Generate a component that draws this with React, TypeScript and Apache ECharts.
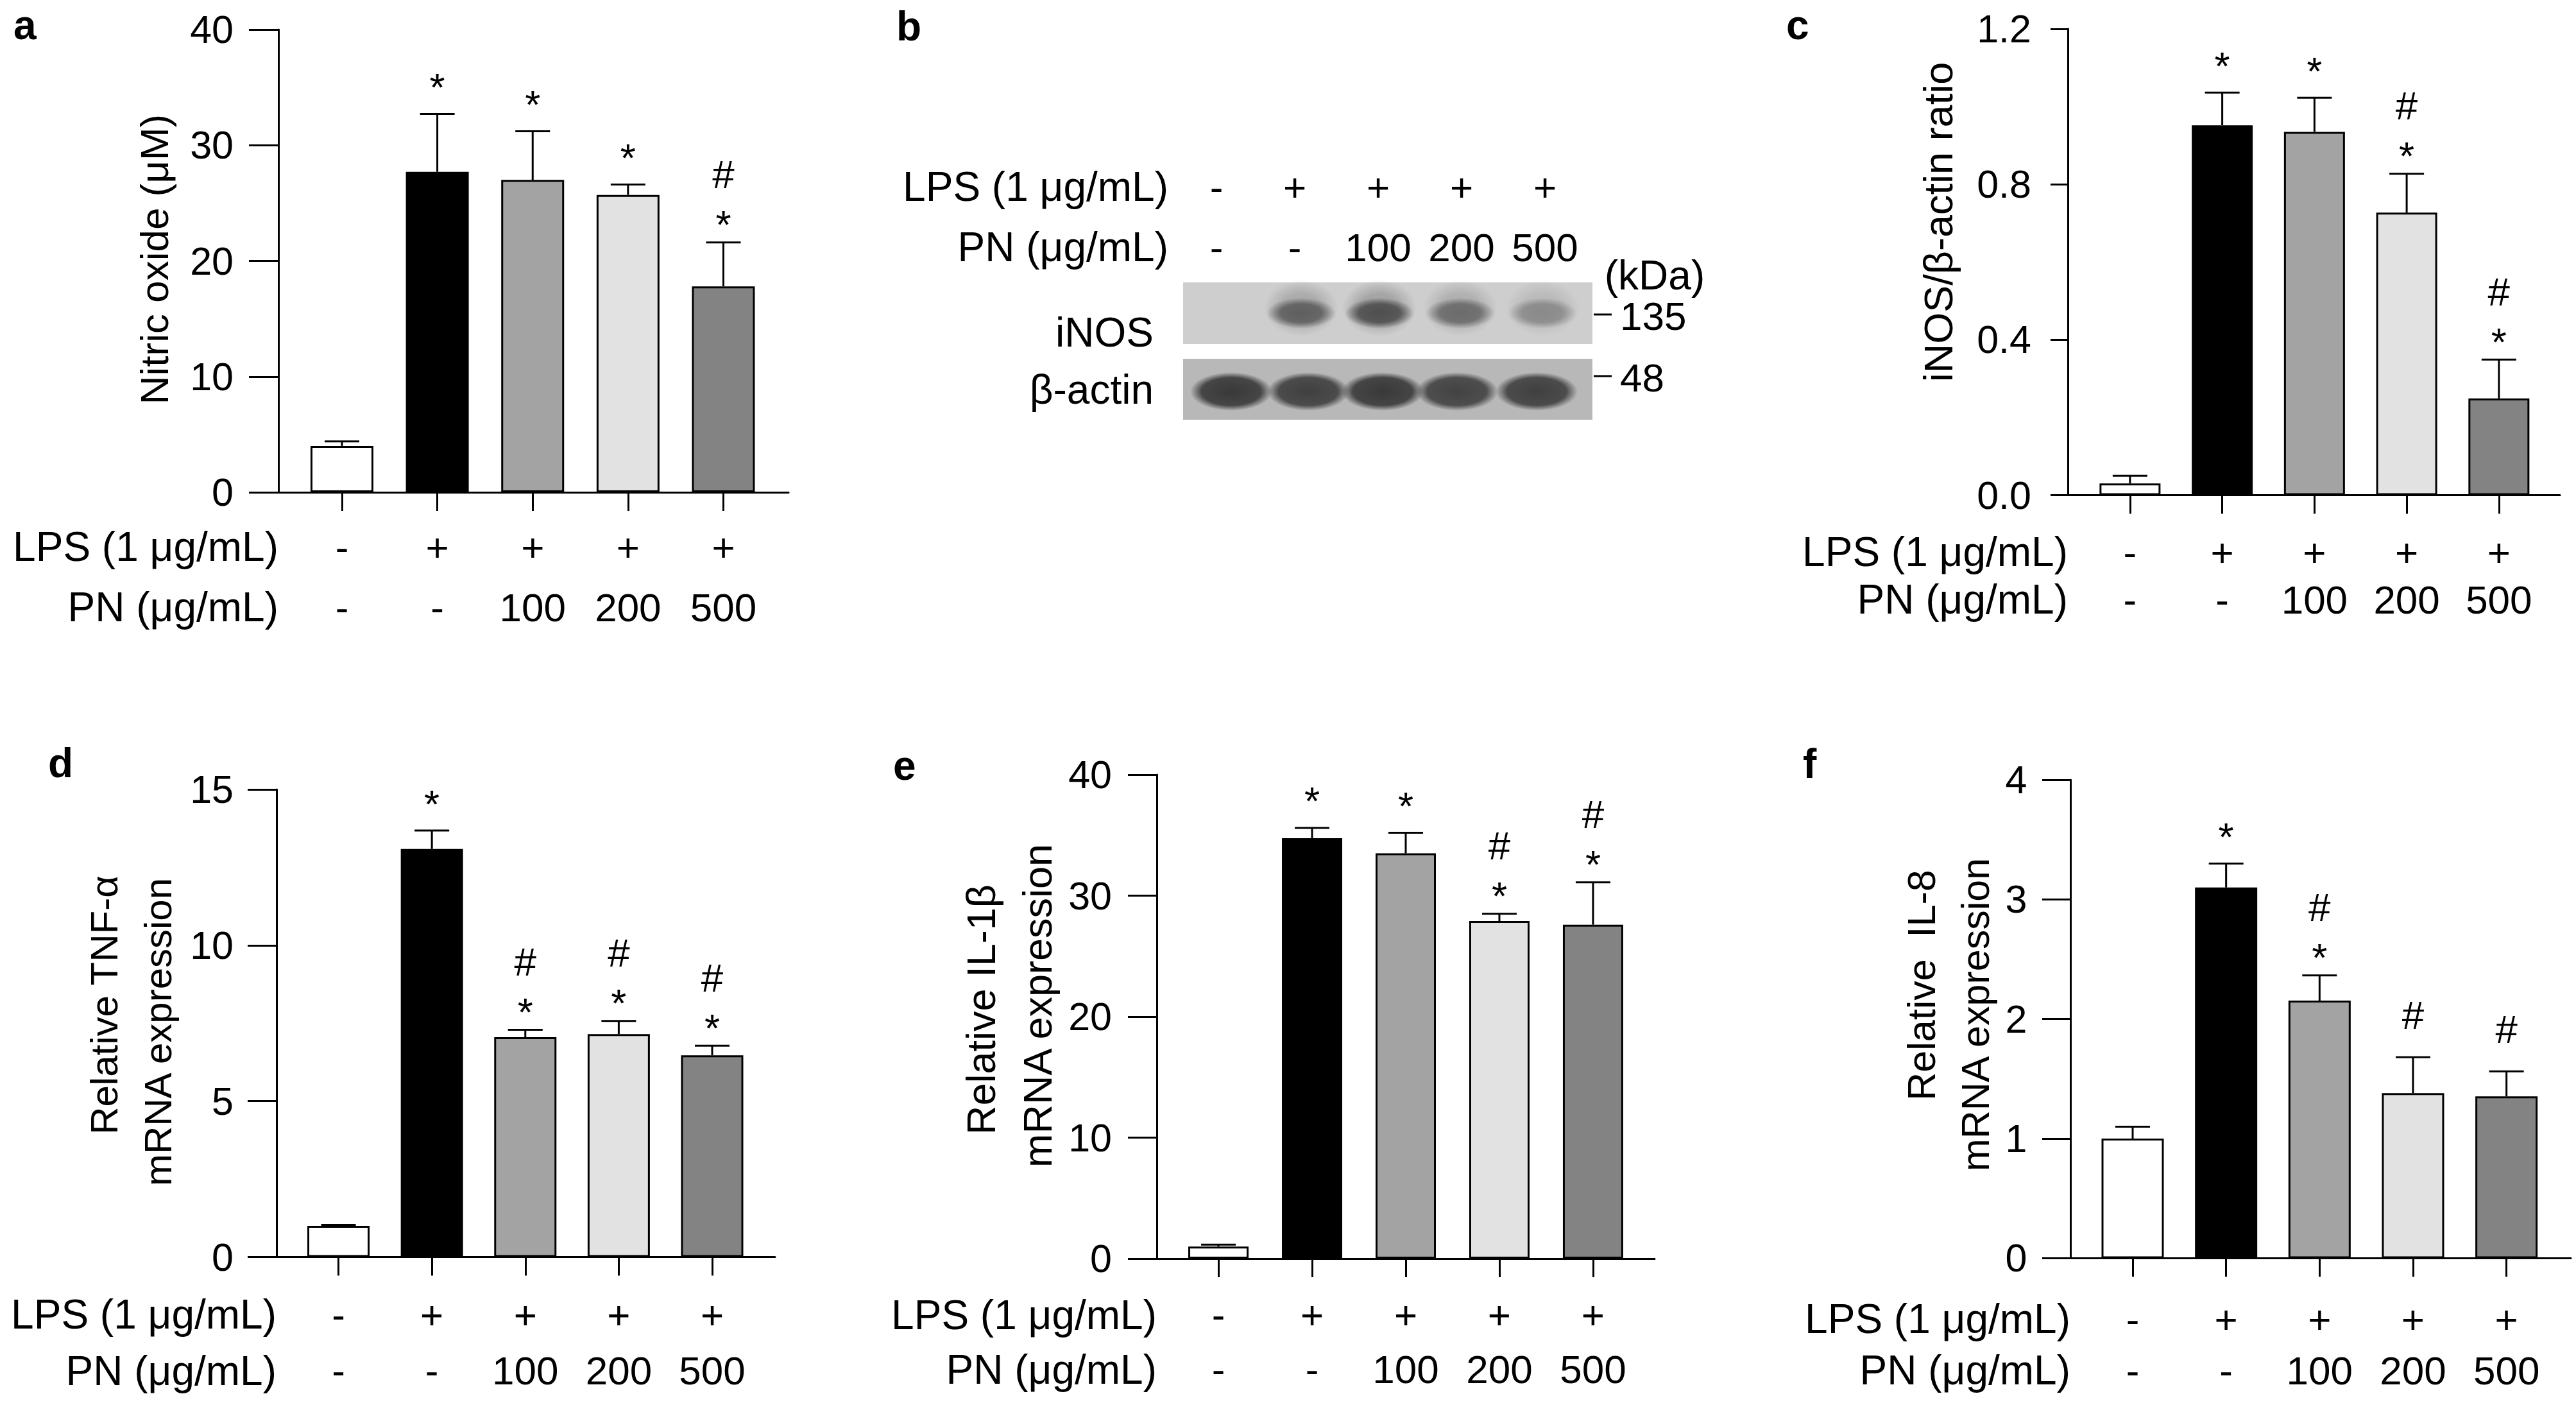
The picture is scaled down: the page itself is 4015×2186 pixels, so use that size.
import React, { useEffect, useRef } from 'react';
import * as echarts from 'echarts';

const FONT = '"Liberation Sans", Arial, Helvetica, sans-serif';

// ---------- data ----------
const GROUPS = [0, 1, 2, 3, 4];
const LPS_ROW = ['-', '+', '+', '+', '+'];
const PN_ROW = ['-', '-', '100', '200', '500'];
const BAR_FILLS = ['#ffffff', '#000000', '#a3a3a3', '#e2e2e2', '#838383'];

const noMean = [4.0, 27.7, 27.0, 25.7, 17.8];
const noErr = [0.4, 5.0, 4.2, 0.9, 3.8];
const noMarks = ['', '*', '*', '*', '#*'];

const inosMean = [0.03, 0.952, 0.935, 0.727, 0.249];
const inosErr = [0.02, 0.084, 0.088, 0.1, 0.1];
const inosMarks = ['', '*', '*', '#*', '#*'];

const tnfMean = [1.0, 13.09, 7.05, 7.15, 6.47];
const tnfErr = [0.03, 0.59, 0.24, 0.42, 0.31];
const tnfMarks = ['', '*', '#*', '#*', '#*'];

const il1bMean = [1.0, 34.75, 33.5, 27.9, 27.6];
const il1bErr = [0.15, 0.85, 1.7, 0.6, 3.5];
const il1bMarks = ['', '*', '*', '#*', '#*'];

const il8Mean = [1.0, 3.1, 2.154, 1.38, 1.353];
const il8Err = [0.1, 0.2, 0.21, 0.3, 0.21];
const il8Marks = ['', '*', '#*', '#', '#'];

// western blot band intensities (0..1)
const inosBand = [0, 0.72, 0.86, 0.62, 0.4];
const actinBand = [0.95, 0.9, 0.95, 0.88, 0.9];
const KDA_MARKERS = ['135', '48'];

// ---------- layout ----------
const panels = [
  {
    letter: 'a', letterPos: [21, 61], mean: noMean, err: noErr, marks: noMarks, yMax: 40, interval: 10, decimals: 0,
    L: { axisX: 434, top: 46, bottom: 767, right: 1229, xMin: -0.666, xMax: 4.683, yTick: 46, yLabelMargin: 70, rowMargin: 38, rowGap: 94, barWidth: 98 },
    titles: [{ text: 'Nitric oxide (μM)', x: 240, y: 404, size: 62 }],
  },
  {
    letter: 'c', letterPos: [2784, 61], mean: inosMean, err: inosErr, marks: inosMarks, yMax: 1.2, interval: 0.4, decimals: 1,
    L: { axisX: 3223, top: 45, bottom: 771.5, right: 3990, xMin: -0.674, xMax: 4.662, yTick: 27, yLabelMargin: 57, rowMargin: 51.5, rowGap: 74, barWidth: 95 },
    titles: [{ text: 'iNOS/β-actin ratio', x: 3021, y: 346, size: 63 }],
  },
  {
    letter: 'd', letterPos: [75, 1211], mean: tnfMean, err: tnfErr, marks: tnfMarks, yMax: 15, interval: 5, decimals: 0,
    L: { axisX: 431, top: 1230, bottom: 1958.5, right: 1208, xMin: -0.663, xMax: 4.673, yTick: 45, yLabelMargin: 67, rowMargin: 46, rowGap: 87.5, barWidth: 97 },
    titles: [
      { text: 'Relative TNF-α', x: 162, y: 1566, size: 60 },
      { text: 'mRNA expression', x: 246, y: 1608, size: 60 },
    ],
  },
  {
    letter: 'e', letterPos: [1392, 1215], mean: il1bMean, err: il1bErr, marks: il1bMarks, yMax: 40, interval: 10, decimals: 0,
    L: { axisX: 1803, top: 1207, bottom: 1961, right: 2579, xMin: -0.658, xMax: 4.658, yTick: 45, yLabelMargin: 70, rowMargin: 45, rowGap: 85, barWidth: 94 },
    titles: [
      { text: 'Relative IL-1β', x: 1529, y: 1573, size: 63 },
      { text: 'mRNA expression', x: 1617, y: 1567, size: 63 },
    ],
  },
  {
    letter: 'f', letterPos: [2810, 1212], mean: il8Mean, err: il8Err, marks: il8Marks, yMax: 4, interval: 1, decimals: 0,
    L: { axisX: 3227, top: 1215, bottom: 1960.4, right: 4007, xMin: -0.666, xMax: 4.689, yTick: 44, yLabelMargin: 67.5, rowMargin: 55, rowGap: 80, barWidth: 97 },
    titles: [
      { text: 'Relative  IL-8', x: 2995, y: 1535, size: 61 },
      { text: 'mRNA expression', x: 3079, y: 1581, size: 61 },
    ],
  },
];

const NUM = 61; // tick numbers and row values
const HEAD = 64; // row headers / blot labels
const MARK_SIZE = 62;
const LETTER = 64;

function txt(text: string, x: number, y: number, align: string, size = HEAD, extra: any = {}) {
  return {
    type: 'text', x, y, ...extra,
    style: { text, align, verticalAlign: 'middle', fontSize: size, lineHeight: size, fontFamily: FONT, fill: '#000' },
  };
}

function letterText(t: string, x: number, baseline: number) {
  return {
    type: 'text', x, y: baseline - 0.3465 * LETTER,
    style: { text: t, align: 'left', verticalAlign: 'middle', fontSize: LETTER, lineHeight: 50, fontWeight: 'bold', fontFamily: FONT, fill: '#000' },
  };
}

function band(cx: number, cy: number, rx: number, ry: number, rgb: string, a: number, solid: number) {
  return {
    type: 'ellipse',
    shape: { cx, cy, rx, ry },
    style: {
      fill: new echarts.graphic.RadialGradient(0.5, 0.5, 0.5, [
        { offset: 0, color: `rgba(${rgb},${a})` },
        { offset: solid, color: `rgba(${rgb},${a * 0.9})` },
        { offset: 1, color: `rgba(${rgb},0)` },
      ]),
    },
  };
}

function buildOption() {
  const grid: any[] = [];
  const xAxis: any[] = [];
  const yAxis: any[] = [];
  const series: any[] = [];
  const graphic: any[] = [];

  panels.forEach((p, k) => {
    const L = p.L;
    grid.push({ left: L.axisX, top: L.top, width: L.right - L.axisX, height: L.bottom - L.top, containLabel: false, outerBoundsMode: 'none' });
    xAxis.push({
      type: 'value', gridIndex: k, min: L.xMin, max: L.xMax,
      axisLine: { show: true, onZero: false, lineStyle: { color: '#000', width: 3 } },
      axisTick: { show: true, customValues: GROUPS, length: 29, lineStyle: { color: '#000', width: 3 } },
      axisLabel: {
        show: true, customValues: GROUPS, margin: L.rowMargin,
        formatter: (v: number) => {
          const i = Math.round(v);
          return `{r|${LPS_ROW[i]}}\n{r|${PN_ROW[i]}}`;
        },
        rich: { r: { fontFamily: FONT, fontSize: NUM + 1, lineHeight: L.rowGap, color: '#000' } },
      },
      splitLine: { show: false },
    });
    yAxis.push({
      type: 'value', gridIndex: k, min: 0, max: p.yMax, interval: p.interval,
      axisLine: { show: true, onZero: false, lineStyle: { color: '#000', width: 3 } },
      axisTick: { show: true, length: L.yTick, lineStyle: { color: '#000', width: 3 } },
      axisLabel: {
        margin: L.yLabelMargin, fontFamily: FONT, fontSize: NUM, color: '#000',
        padding: [12, 0, 0, 0],
        formatter: (v: number) => v.toFixed(p.decimals),
      },
      splitLine: { show: false },
    });
    series.push({
      type: 'bar', xAxisIndex: k, yAxisIndex: k, barWidth: L.barWidth, z: 2,
      itemStyle: { borderColor: '#000', borderWidth: 3 },
      data: p.mean.map((m, i) => ({ value: [GROUPS[i], m], itemStyle: { color: BAR_FILLS[i] } })),
    });
    series.push({
      type: 'custom', xAxisIndex: k, yAxisIndex: k, z: 3,
      data: p.mean.map((m, i) => [GROUPS[i], m, p.err[i]]),
      renderItem: (params: any, api: any) => {
        const x = api.value(0);
        const m = api.value(1);
        const e = api.value(2);
        const base = api.coord([x, m]);
        const top = api.coord([x, m + e]);
        const cx = base[0];
        const children: any[] = [];
        const ls = { stroke: '#000', lineWidth: 3 };
        children.push({ type: 'line', shape: { x1: cx, y1: base[1], x2: cx, y2: top[1] }, style: ls });
        children.push({ type: 'line', shape: { x1: cx - 27, y1: top[1], x2: cx + 27, y2: top[1] }, style: ls });
        const mk = p.marks[params.dataIndex] || '';
        const hasStar = mk.indexOf('*') >= 0;
        const hasHash = mk.indexOf('#') >= 0;
        let starC = top[1];
        const ts = { fontSize: MARK_SIZE, fontFamily: FONT, fill: '#000', align: 'center', verticalAlign: 'middle' };
        if (hasStar) {
          starC = top[1] - (hasHash ? 42 : 56);
          children.push({ type: 'text', style: { ...ts, text: '*', x: cx, y: starC + 14 } });
        }
        if (hasHash) {
          const hc = hasStar ? starC - 64 : top[1] - 66;
          children.push({ type: 'text', style: { ...ts, text: '#', x: cx, y: hc } });
        }
        return { type: 'group', children };
      },
    });

    const r1 = L.bottom + L.rowMargin + L.rowGap / 2;
    const r2 = L.bottom + L.rowMargin + L.rowGap * 1.5;
    graphic.push(txt('LPS (1 μg/mL)', L.axisX, r1, 'right'));
    graphic.push(txt('PN (μg/mL)', L.axisX, r2, 'right'));
    p.titles.forEach((t) => graphic.push(txt(t.text, t.x, t.y, 'center', t.size, { rotation: Math.PI / 2 })));
    graphic.push(letterText(p.letter, p.letterPos[0], p.letterPos[1]));
  });

  // ---------- panel b : western blot ----------
  graphic.push(letterText('b', 1397, 63));
  const laneLabelX = [1896, 2018, 2148, 2278, 2408];
  graphic.push(txt('LPS (1 μg/mL)', 1821, 291, 'right'));
  graphic.push(txt('PN (μg/mL)', 1821, 385, 'right'));
  LPS_ROW.forEach((s, i) => graphic.push(txt(s, laneLabelX[i], 291, 'center', NUM + 1)));
  PN_ROW.forEach((s, i) => graphic.push(txt(s, laneLabelX[i], 385, 'center', NUM + 1)));
  graphic.push(txt('(kDa)', 2579, 429, 'center'));
  graphic.push(txt('iNOS', 1798, 518, 'right'));
  graphic.push(txt('β-actin', 1798, 607, 'right'));

  // blot membranes
  graphic.push({ type: 'rect', shape: { x: 1844, y: 440, width: 638, height: 96 }, style: { fill: '#cecece' } });
  graphic.push({ type: 'rect', shape: { x: 1844, y: 559, width: 638, height: 95 }, style: { fill: '#b8b8b8' } });
  const inosLane = [1905, 2028, 2150, 2276, 2404];
  inosBand.forEach((a, i) => {
    if (a <= 0) return;
    graphic.push(band(inosLane[i], 480, 58, 44, '120,120,120', a * 0.6, 0.5));
    graphic.push(band(inosLane[i], 488, 54, 24, '65,65,65', a, 0.6));
  });
  const actinLane = [1919, 2039, 2155, 2271, 2395];
  actinBand.forEach((a, i) => {
    graphic.push(band(actinLane[i], 610, 64, 30, '50,50,50', a, 0.72));
  });
  // size markers
  const markerY = [490, 586];
  KDA_MARKERS.forEach((m, i) => {
    graphic.push({ type: 'line', shape: { x1: 2484, y1: markerY[i], x2: 2512, y2: markerY[i] }, style: { stroke: '#000', lineWidth: 3 } });
    graphic.push(txt(m, 2525, markerY[i] + 2, 'left', NUM + 1));
  });

  return {
    animation: false,
    backgroundColor: '#ffffff',
    grid, xAxis, yAxis, series, graphic,
  };
}

export default function App() {
  const ref = useRef<HTMLDivElement>(null);
  useEffect(() => {
    if (!ref.current) return;
    const chart = echarts.init(ref.current, undefined, { renderer: 'svg' });
    chart.setOption(buildOption() as any);
    return () => chart.dispose();
  }, []);
  return (
    <div
      ref={ref}
      style={{ position: 'absolute', left: 0, top: 0, width: 4015, height: 2186, background: '#fff' }}
    />
  );
}
